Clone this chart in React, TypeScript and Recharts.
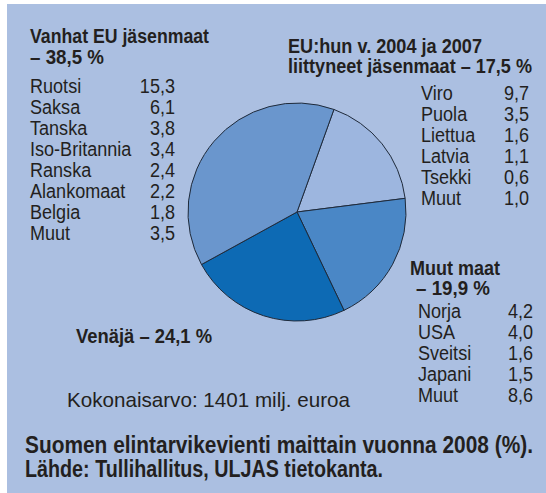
import type { ReactNode } from 'react';
import { PieChart, Pie, Cell } from 'recharts';

// pie slices, clockwise from the top right
const regions = ['EU:hun v. 2004 ja 2007 liittyneet jäsenmaat', 'Muut maat', 'Venäjä', 'Vanhat EU jäsenmaat'];
const shares = [17.5, 19.9, 24.1, 38.5];

const oldEuCountries = ['Ruotsi', 'Saksa', 'Tanska', 'Iso-Britannia', 'Ranska', 'Alankomaat', 'Belgia', 'Muut'];
const oldEuValues = ['15,3', '6,1', '3,8', '3,4', '2,4', '2,2', '1,8', '3,5'];

const newEuCountries = ['Viro', 'Puola', 'Liettua', 'Latvia', 'Tsekki', 'Muut'];
const newEuValues = ['9,7', '3,5', '1,6', '1,1', '0,6', '1,0'];

const otherCountries = ['Norja', 'USA', 'Sveitsi', 'Japani', 'Muut'];
const otherValues = ['4,2', '4,0', '1,6', '1,5', '8,6'];

const COLORS = ['#9db6df', '#4a87c6', '#0d6ab4', '#6a96cd'];
const BG = '#abbfe1';
const INK = '#231f20';
const FONT = '"Liberation Sans", Arial, sans-serif';

const ROW = 21;
const NARROW = 0.86; // the print font is a condensed one

// text squeezed to the width it has in the print
function T({ x, y, w, children }: { x: number; y: number; w: number; children: ReactNode }) {
  return (
    <text x={x} y={y} textLength={w} lengthAdjust="spacingAndGlyphs">
      {children}
    </text>
  );
}

function List({ labels, values, x, xr, y }: { labels: string[]; values: string[]; x: number; xr: number; y: number }) {
  return (
    <>
      {labels.map((l, i) => (
        <g key={l + i}>
          <text transform={`translate(${x} ${y + i * ROW}) scale(${NARROW} 1)`}>{l}</text>
          <text transform={`translate(${xr} ${y + i * ROW}) scale(${NARROW} 1)`} textAnchor="end">
            {values[i]}
          </text>
        </g>
      ))}
    </>
  );
}

export default function App() {
  const data = regions.map((name, i) => ({ name, value: shares[i] }));

  return (
    <div style={{ position: 'absolute', left: 0, top: 0, width: 546, height: 493, background: '#fff' }}>
      <div style={{ position: 'absolute', left: 7, top: 4, width: 539, height: 489, background: BG }} />
      <div style={{ position: 'absolute', left: 0, top: 0 }}>
        <PieChart width={546} height={493} margin={{ top: 0, right: 0, bottom: 0, left: 0 }}>
          <Pie
            data={data}
            dataKey="value"
            cx={297}
            cy={212}
            outerRadius={109}
            startAngle={70.2}
            endAngle={-289.8}
            stroke="#1f2a3a"
            strokeWidth={1}
            isAnimationActive={false}
          >
            {data.map((d, i) => (
              <Cell key={d.name} fill={COLORS[i]} />
            ))}
          </Pie>
        </PieChart>
      </div>
      <svg width={546} height={493} style={{ position: 'absolute', left: 0, top: 0 }} fontFamily={FONT} fill={INK}>
        <g fontSize={19.5} fontWeight="bold">
          <T x={30} y={43} w={179}>Vanhat EU jäsenmaat</T>
          <T x={30} y={64} w={74}>– 38,5 %</T>
          <T x={288} y={53} w={194}>EU:hun v. 2004 ja 2007</T>
          <T x={288} y={73} w={244}>liittyneet jäsenmaat – 17,5 %</T>
          <T x={410} y={275} w={90}>Muut maat</T>
          <T x={416} y={295} w={74}>– 19,9 %</T>
          <T x={76} y={343} w={136}>Venäjä – 24,1 %</T>
        </g>
        <g fontSize={21}>
          <List labels={oldEuCountries} values={oldEuValues} x={30} xr={175} y={93} />
          <List labels={newEuCountries} values={newEuValues} x={421} xr={529} y={100} />
          <List labels={otherCountries} values={otherValues} x={418} xr={533} y={318} />
          <T x={67} y={407} w={283}>Kokonaisarvo: 1401 milj. euroa</T>
        </g>
        <g fontSize={23.5} fontWeight="bold">
          <T x={25} y={453} w={508}>Suomen elintarvikevienti maittain vuonna 2008 (%).</T>
          <T x={25} y={477} w={358}>Lähde: Tullihallitus, ULJAS tietokanta.</T>
        </g>
      </svg>
    </div>
  );
}
